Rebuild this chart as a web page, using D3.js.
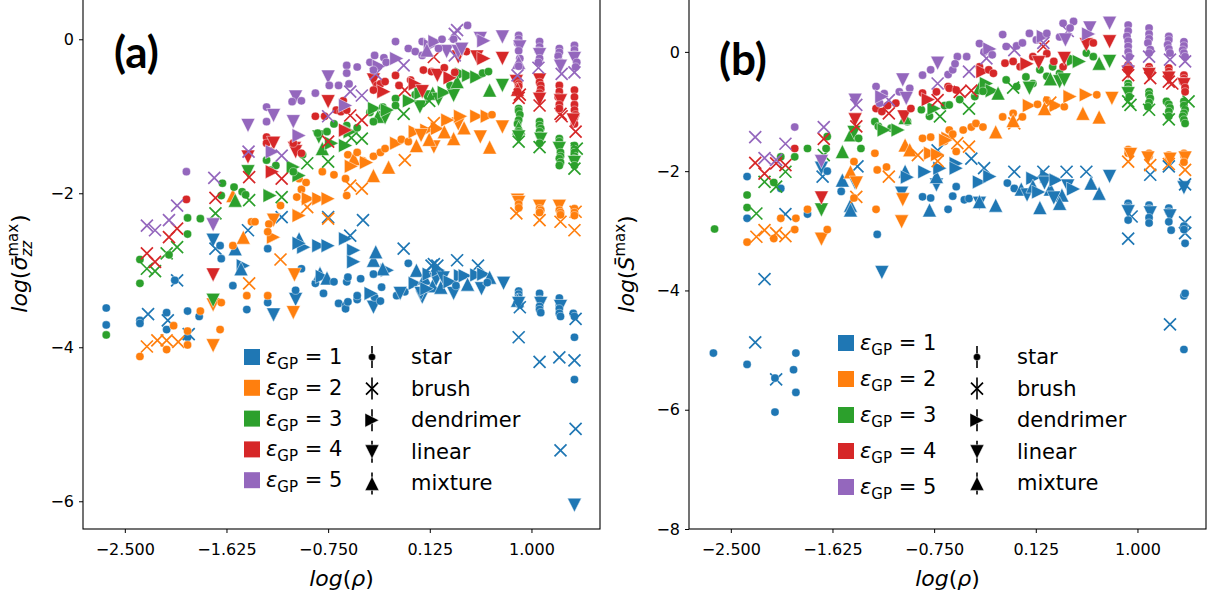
<!DOCTYPE html>
<html>
<head>
<meta charset="utf-8">
<script src="https://cdn.jsdelivr.net/npm/d3@7"></script>
<style>
  body { margin: 0; background: #fff; }
  svg { display: block; }
  text { font-family: "DejaVu Sans", sans-serif; fill: #000; }
</style>
</head>
<body>
<div id="chart"></div>
<script>
// x = log(rho), y = log(value), m = architecture code
// s = star, b = brush, d = dendrimer, l = linear, m = mixture
const xTicks = [-2.5, -1.625, -0.75, 0.125, 1.0];
const yTicksA = [0, -2, -4, -6];
const yTicksB = [0, -2, -4, -6, -8];
const epsLabels = ["1", "2", "3", "4", "5"];
const epsColors = ["#1f77b4", "#ff7f0e", "#2ca02c", "#d62728", "#9467bd"];
const archCodes = ["s", "b", "d", "l", "m"];
const archNames = ["star", "brush", "dendrimer", "linear", "mixture"];

// ---- panel (a): sigma_zz max ----
const a1 = [[-2.66,-3.49,'s'],[-2.66,-3.71,'s'],[-2.37,-3.65,'s'],[-2.37,-3.69,'s'],[-2.30,-3.57,'b'],
  [-2.14,-3.55,'s'],[-2.14,-3.77,'s'],[-2.13,-3.65,'b'],[-2.05,-3.13,'b'],[-2.07,-3.13,'s'],
  [-1.96,-3.53,'s'],[-1.96,-3.87,'s'],[-1.95,-3.83,'b'],[-1.86,-3.6,'s'],
  [-1.74,-2.61,'l'],[-1.72,-2.72,'b'],[-1.68,-2.68,'s'],[-1.67,-2.85,'s'],
  [-1.57,-3.2,'s'],[-1.55,-2.72,'m'],[-1.48,-2.94,'d'],[-1.50,-2.98,'m'],[-1.45,-3.51,'s'],[-1.44,-2.48,'b'],
  [-1.27,-3.42,'s'],[-1.22,-3.58,'l'],[-1.27,-2.72,'s'],
  [-1.03,-3.38,'l'],[-1.03,-3.26,'s'],[-1.0,-2.59,'m'],[-0.96,-2.7,'d'],[-1.0,-2.65,'d'],[-0.98,-2.98,'s'],
  [-1.15,-2.31,'b'],[-0.75,-2.31,'b'],[-0.83,-2.68,'d'],[-0.75,-2.68,'d'],[-0.60,-2.59,'d'],
  [-0.86,-3.17,'s'],[-0.82,-3.04,'m'],[-0.80,-3.08,'d'],[-0.79,-3.3,'s'],[-0.76,-3.1,'m'],
  [-0.70,-3.15,'s'],[-0.66,-3.43,'s'],[-0.60,-3.46,'s'],[-0.60,-3.5,'s'],[-0.59,-3.15,'s'],[-0.50,-3.38,'s'],
  [-0.45,-2.35,'b'],[-0.56,-2.55,'b'],[-0.53,-2.74,'d'],[-0.53,-2.89,'d'],
  [-0.36,-2.87,'m'],[-0.34,-2.76,'m'],[-0.24,-3.0,'d'],[-0.28,-2.98,'m'],
  [-0.58,-3.09,'s'],[-0.47,-3.11,'s'],[-0.36,-3.05,'s'],[-0.29,-3.22,'s'],[-0.50,-3.33,'s'],[-0.58,-3.41,'s'],
  [-0.36,-3.48,'l'],[-0.35,-3.35,'s'],[-0.30,-3.4,'s'],[-0.38,-3.3,'d'],
  [-0.10,-2.72,'b'],[-0.06,-2.91,'s'],[-0.16,-3.33,'s'],[-0.09,-3.28,'s'],[-0.13,-3.3,'l'],
  [0.01,-3.0,'m'],[0.0,-3.17,'d'],[0.06,-3.35,'l'],[0.05,-3.3,'l'],[0.08,-3.1,'m'],[0.12,-3.05,'d'],
  [0.15,-3.2,'m'],[0.18,-3.12,'l'],[0.2,-3.0,'d'],[0.22,-3.22,'m'],[0.1,-3.24,'d'],[0.24,-3.1,'l'],
  [0.14,-2.94,'b'],[0.16,-2.92,'b'],[0.19,-2.94,'b'],
  [0.36,-2.87,'b'],[0.33,-3.3,'l'],[0.39,-3.07,'d'],[0.43,-3.07,'d'],[0.30,-3.15,'d'],[0.35,-3.2,'s'],
  [0.54,-2.94,'b'],[0.53,-3.06,'d'],[0.59,-3.05,'d'],[0.57,-3.24,'l'],[0.64,-3.09,'m'],[0.62,-3.16,'s'],
  [0.76,-3.17,'l'],[0.45,-3.18,'m'],
  [0.89,-3.27,'s'],[0.89,-3.31,'s'],[0.89,-3.35,'s'],[0.88,-3.39,'m'],[0.9,-3.45,'s'],[0.89,-3.43,'l'],[0.9,-3.48,'b'],[0.89,-3.87,'b'],
  [1.07,-3.3,'s'],[1.07,-3.38,'s'],[1.08,-3.43,'l'],[1.07,-3.47,'s'],[1.07,-3.51,'s'],[1.08,-3.55,'s'],[1.07,-4.19,'b'],
  [1.24,-3.36,'s'],[1.24,-3.45,'s'],[1.25,-3.47,'l'],[1.24,-3.5,'s'],[1.24,-3.56,'s'],[1.25,-3.6,'s'],[1.24,-4.13,'b'],[1.25,-5.34,'b'],
  [1.36,-3.56,'s'],[1.37,-3.6,'s'],[1.38,-3.63,'b'],[1.37,-3.87,'s'],[1.37,-4.17,'b'],[1.37,-4.42,'s'],[1.38,-5.06,'b'],[1.37,-6.05,'l']];

const a2 = [[-2.37,-4.12,'s'],[-2.31,-3.99,'b'],[-2.22,-3.91,'b'],[-2.14,-3.91,'b'],[-2.04,-3.93,'b'],[-2.14,-4.03,'s'],[-2.08,-3.72,'s'],
  [-1.96,-3.79,'s'],[-1.96,-3.97,'s'],[-1.85,-3.53,'s'],
  [-1.74,-3.45,'l'],[-1.67,-3.42,'s'],[-1.68,-3.77,'s'],[-1.74,-3.98,'l'],
  [-1.57,-2.03,'m'],[-1.57,-2.68,'s'],[-1.48,-2.57,'m'],[-1.41,-2.37,'s'],[-1.38,-2.37,'s'],[-1.43,-3.17,'b'],
  [-1.45,-3.33,'s'],[-1.27,-3.33,'s'],
  [-1.22,-2.35,'l'],[-1.22,-2.57,'d'],[-1.26,-2.4,'s'],[-1.27,-2.5,'s'],[-1.16,-2.86,'b'],[-1.16,-2.16,'s'],
  [-1.04,-3.06,'l'],[-1.05,-3.55,'l'],
  [-1.0,-2.29,'d'],[-1.0,-1.81,'s'],[-0.98,-1.95,'s'],[-1.02,-2.05,'s'],[-0.94,-1.86,'s'],[-0.93,-2.18,'b'],
  [-0.92,-2.07,'d'],[-0.83,-2.07,'d'],[-0.75,-2.07,'d'],[-0.8,-1.72,'s'],[-0.70,-1.76,'s'],[-0.60,-1.81,'s'],[-0.75,-2.33,'b'],
  [-0.58,-1.5,'s'],[-0.53,-1.55,'m'],[-0.5,-1.47,'s'],[-0.45,-1.58,'s'],[-0.36,-1.52,'s'],[-0.3,-1.47,'s'],
  [-0.26,-1.42,'s'],[-0.55,-1.65,'d'],[-0.42,-1.6,'d'],
  [-0.36,-1.77,'m'],[-0.23,-1.66,'m'],[-0.46,-1.94,'b'],[-0.56,-1.9,'b'],[-0.59,-2.03,'s'],
  [-0.16,-1.35,'d'],[-0.12,-1.3,'s'],[-0.06,-1.33,'s'],[0.01,-1.38,'m'],[0.16,-1.40,'l'],[-0.09,-1.57,'b'],
  [0.0,-1.2,'d'],[0.1,-1.18,'d'],[0.19,-1.16,'d'],[0.16,-1.09,'b'],[0.05,-1.25,'l'],[0.12,-1.3,'m'],
  [0.33,-1.29,'m'],[0.37,-1.1,'l'],[0.39,-1.0,'d'],[0.53,-1.0,'d'],[0.62,-1.0,'d'],[0.28,-1.05,'d'],
  [0.25,-1.2,'m'],[0.42,-1.15,'m'],[0.66,-0.98,'s'],
  [0.56,-1.27,'l'],[0.64,-1.4,'m'],[0.75,-1.14,'l'],
  [0.88,-2.09,'l'],[0.89,-2.12,'l'],[0.89,-2.14,'s'],[0.89,-2.19,'s'],[0.87,-2.26,'b'],
  [1.07,-2.17,'l'],[1.07,-2.2,'s'],[1.08,-2.22,'s'],[1.07,-2.25,'s'],[1.07,-2.35,'b'],
  [1.24,-2.17,'l'],[1.24,-2.22,'s'],[1.25,-2.25,'s'],[1.25,-2.28,'s'],[1.25,-2.37,'b'],
  [1.37,-2.2,'s'],[1.38,-2.24,'b'],[1.37,-2.25,'s'],[1.37,-2.29,'s'],[1.37,-2.48,'b']];

const a3 = [[-2.66,-3.84,'s'],
  [-2.37,-2.86,'s'],[-2.37,-3.17,'s'],[-2.31,-2.98,'b'],[-2.24,-3.01,'b'],[-2.14,-2.78,'b'],[-2.05,-2.70,'b'],[-2.12,-2.8,'s'],
  [-1.96,-2.32,'s'],[-1.96,-2.53,'s'],[-1.85,-2.33,'s'],[-1.72,-2.26,'b'],[-1.74,-3.39,'l'],
  [-1.66,-1.87,'s'],[-1.56,-1.92,'s'],[-1.67,-2.03,'s'],[-1.55,-2.09,'m'],[-1.49,-1.98,'s'],[-1.46,-2.02,'s'],
  [-1.43,-2.09,'b'],[-1.44,-1.72,'l'],
  [-1.28,-1.57,'s'],[-1.20,-1.64,'s'],[-1.25,-2.03,'d'],[-1.15,-2.05,'b'],[-1.25,-1.7,'s'],
  [-1.05,-1.66,'d'],[-1.0,-1.77,'d'],[-1.05,-1.72,'s'],[-0.93,-1.61,'b'],[-0.97,-1.5,'s'],
  [-0.83,-1.27,'l'],[-0.80,-1.42,'m'],[-0.84,-1.22,'s'],[-0.76,-1.2,'s'],[-0.70,-1.1,'s'],[-0.75,-1.59,'b'],[-0.72,-1.35,'d'],
  [-0.60,-1.38,'d'],[-0.59,-1.12,'s'],[-0.56,-1.2,'d'],[-0.46,-1.29,'b'],[-0.55,-1.28,'b'],[-0.5,-1.15,'s'],
  [-0.39,-0.95,'s'],[-0.35,-0.9,'d'],[-0.32,-1.0,'m'],[-0.28,-0.88,'s'],[-0.26,-1.02,'l'],[-0.24,-0.92,'d'],[-0.36,-1.07,'s'],
  [-0.17,-0.77,'s'],[-0.17,-0.86,'s'],[-0.10,-0.97,'b'],[0.04,-0.88,'l'],[-0.05,-0.8,'d'],
  [0.0,-0.72,'s'],[0.05,-0.7,'d'],[0.1,-0.75,'l'],[0.15,-0.7,'m'],[0.2,-0.78,'l'],[0.25,-0.69,'d'],[0.12,-0.8,'b'],
  [0.33,-0.73,'l'],[0.30,-0.6,'s'],[0.40,-0.45,'d'],[0.46,-0.47,'d'],[0.53,-0.49,'d'],[0.58,-0.44,'s'],[0.63,-0.42,'s'],[0.36,-0.55,'m'],
  [0.64,-0.66,'m'],[0.75,-0.6,'l'],
  [0.89,-0.9,'s'],[0.89,-0.93,'s'],[0.90,-0.98,'s'],[0.89,-1.05,'s'],[0.88,-1.1,'s'],[0.89,-1.15,'m'],[0.89,-1.2,'s'],[0.89,-1.27,'l'],[0.89,-1.33,'b'],
  [1.07,-1.07,'s'],[1.07,-1.12,'s'],[1.08,-1.16,'s'],[1.07,-1.2,'s'],[1.07,-1.25,'s'],[1.08,-1.3,'l'],[1.07,-1.35,'s'],[1.07,-1.4,'b'],
  [1.24,-1.29,'s'],[1.24,-1.33,'s'],[1.24,-1.38,'s'],[1.24,-1.42,'l'],[1.25,-1.47,'s'],[1.25,-1.52,'s'],[1.24,-1.55,'s'],[1.25,-1.6,'s'],[1.24,-1.64,'s'],
  [1.37,-1.38,'s'],[1.37,-1.43,'s'],[1.37,-1.47,'s'],[1.37,-1.52,'s'],[1.36,-1.55,'s'],[1.37,-1.6,'l'],[1.37,-1.64,'s'],[1.39,-1.42,'b'],[1.37,-1.68,'b']];

const a4 = [[-2.31,-2.78,'b'],[-2.24,-2.89,'b'],[-2.12,-2.57,'b'],[-2.05,-2.46,'b'],
  [-1.97,-2.08,'s'],[-1.72,-2.06,'b'],[-1.74,-3.06,'l'],[-1.44,-1.53,'l'],[-1.43,-1.79,'b'],
  [-1.28,-1.27,'s'],[-1.28,-1.35,'s'],[-1.22,-1.35,'l'],[-1.23,-1.72,'d'],[-1.15,-1.81,'b'],[-1.25,-1.45,'s'],
  [-1.04,-1.42,'l'],[-1.03,-1.46,'l'],[-0.98,-1.48,'s'],[-1.05,-1.35,'s'],
  [-0.86,-1.0,'s'],[-0.78,-1.0,'s'],[-0.75,-0.81,'l'],[-0.68,-0.92,'s'],[-0.64,-0.94,'s'],[-0.75,-1.33,'b'],
  [-0.60,-1.18,'d'],[-0.62,-0.8,'s'],[-0.56,-0.99,'b'],[-0.46,-1.05,'b'],[-0.59,-0.92,'s'],
  [-0.36,-0.53,'l'],[-0.33,-0.6,'s'],[-0.3,-0.58,'s'],[-0.27,-0.68,'d'],[-0.36,-0.66,'s'],[-0.26,-0.55,'s'],
  [-0.17,-0.47,'s'],[-0.14,-0.6,'s'],[-0.09,-0.66,'b'],[-0.04,-0.53,'s'],[0.0,-0.58,'d'],[0.07,-0.4,'s'],
  [0.14,-0.42,'s'],[0.19,-0.47,'l'],[0.06,-0.68,'l'],[0.16,-0.23,'b'],[0.25,-0.37,'s'],[0.3,-0.5,'d'],[0.34,-0.43,'s'],
  [0.44,-0.16,'s'],[0.37,-0.23,'l'],[0.53,-0.23,'l'],[0.59,-0.25,'d'],[0.75,-0.25,'l'],
  [0.87,-0.55,'l'],[0.89,-0.58,'s'],[0.89,-0.61,'s'],[0.88,-0.65,'m'],[0.88,-0.68,'s'],[0.89,-0.76,'b'],[0.90,-0.72,'b'],
  [1.07,-0.53,'l'],[1.07,-0.56,'s'],[1.08,-0.6,'s'],[1.08,-0.65,'s'],[1.07,-0.7,'s'],[1.07,-0.78,'l'],[1.07,-0.86,'b'],
  [1.24,-0.6,'s'],[1.24,-0.68,'s'],[1.23,-0.75,'s'],[1.25,-0.8,'l'],[1.24,-0.85,'s'],[1.25,-0.97,'b'],[1.26,-1.0,'b'],[1.24,-0.9,'s'],
  [1.37,-0.66,'s'],[1.37,-0.75,'s'],[1.37,-0.85,'s'],[1.37,-0.92,'s'],[1.38,-0.98,'s'],[1.37,-1.02,'s'],[1.37,-1.1,'s'],[1.38,-1.2,'b'],[1.36,-1.05,'l']];

const a5 = [[-2.31,-2.42,'b'],[-2.24,-2.48,'b'],[-2.12,-2.35,'b'],[-2.05,-2.16,'b'],
  [-1.97,-1.72,'s'],[-1.73,-1.80,'b'],[-1.74,-2.41,'l'],[-1.44,-1.12,'l'],[-1.435,-1.46,'b'],
  [-1.28,-0.88,'s'],[-1.28,-1.07,'s'],[-1.22,-0.99,'l'],[-1.23,-1.46,'d'],[-1.15,-1.51,'b'],
  [-1.03,-0.75,'l'],[-1.06,-0.81,'s'],[-0.98,-0.8,'s'],[-1.05,-1.07,'l'],[-1.0,-1.25,'d'],
  [-0.86,-0.7,'s'],[-0.75,-0.49,'l'],[-0.74,-0.6,'s'],[-0.66,-0.6,'s'],[-0.75,-1.0,'b'],[-0.60,-0.86,'d'],
  [-0.59,-0.34,'s'],[-0.59,-0.44,'s'],[-0.57,-0.58,'s'],[-0.50,-0.36,'s'],[-0.56,-0.68,'b'],[-0.46,-0.73,'b'],
  [-0.39,-0.3,'s'],[-0.35,-0.21,'s'],[-0.31,-0.35,'d'],[-0.27,-0.24,'s'],[-0.25,-0.3,'s'],[-0.34,-0.45,'b'],[-0.36,-0.4,'s'],
  [-0.17,-0.03,'s'],[-0.16,-0.25,'d'],[-0.10,-0.34,'b'],[-0.06,-0.12,'s'],[0.0,-0.16,'s'],[0.06,-0.03,'s'],[0.06,-0.21,'s'],
  [0.13,-0.08,'d'],[0.17,-0.03,'d'],[0.23,0.0,'s'],[0.1,-0.14,'m'],[0.27,-0.16,'l'],[0.34,-0.21,'b'],[0.2,-0.12,'s'],
  [0.36,0.12,'b'],[0.34,0.07,'b'],[0.45,0.18,'s'],[0.33,0.0,'s'],[0.37,-0.16,'l'],[0.40,-0.13,'l'],
  [0.56,0.01,'l'],[0.59,-0.02,'d'],[0.75,0.03,'l'],
  [0.89,0.05,'s'],[0.89,0.0,'s'],[0.88,-0.05,'s'],[0.9,-0.1,'l'],[0.89,-0.15,'s'],[0.9,-0.25,'s'],[0.89,-0.3,'m'],[0.89,-0.35,'s'],[0.88,-0.47,'b'],
  [1.07,-0.03,'s'],[1.07,-0.1,'s'],[1.06,-0.15,'s'],[1.07,-0.2,'l'],[1.07,-0.25,'s'],[1.06,-0.3,'s'],[1.06,-0.37,'b'],
  [1.24,-0.12,'s'],[1.24,-0.17,'s'],[1.23,-0.22,'s'],[1.25,-0.3,'s'],[1.25,-0.35,'l'],[1.26,-0.45,'b'],
  [1.37,-0.08,'s'],[1.37,-0.14,'s'],[1.37,-0.2,'s'],[1.37,-0.25,'l'],[1.39,-0.3,'s'],[1.38,-0.36,'s'],[1.37,-0.43,'b']];

// ---- panel (b): S max ----
const b1 = [[-2.65,-5.05,'s'],[-2.36,-5.24,'s'],[-2.29,-4.87,'b'],[-2.11,-5.49,'b'],[-2.12,-5.47,'s'],[-2.12,-6.04,'s'],
  [-1.96,-5.33,'s'],[-1.94,-5.05,'s'],[-1.94,-5.71,'s'],
  [-2.36,-2.09,'s'],[-2.36,-2.79,'s'],[-2.21,-3.81,'b'],[-2.07,-2.29,'s'],[-2.03,-2.72,'b'],[-1.84,-2.72,'s'],
  [-1.72,-1.95,'l'],[-1.71,-2.09,'b'],[-1.67,-2.0,'s'],
  [-1.54,-2.15,'m'],[-1.55,-2.34,'s'],[-1.47,-2.57,'m'],[-1.47,-2.65,'m'],[-1.43,-2.2,'l'],[-1.41,-1.92,'b'],
  [-1.24,-3.06,'s'],[-1.2,-3.7,'l'],[-1.03,-2.37,'l'],[-1.0,-2.0,'m'],[-0.98,-2.1,'d'],
  [-0.85,-2.43,'s'],[-0.78,-2.45,'s'],[-0.79,-2.65,'m'],[-0.83,-2.01,'d'],[-0.73,-2.23,'l'],[-0.73,-2.09,'m'],
  [-0.72,-1.65,'b'],[-0.7,-1.95,'d'],[-0.63,-2.64,'s'],
  [-0.56,-1.87,'d'],[-0.56,-1.95,'d'],[-0.43,-1.79,'b'],[-0.32,-1.95,'b'],[-0.36,-2.18,'d'],[-0.27,-2.09,'d'],
  [-0.56,-2.26,'s'],[-0.59,-2.42,'s'],[-0.49,-2.48,'s'],[-0.45,-2.46,'s'],[-0.36,-2.54,'l'],[-0.22,-2.57,'m'],[-0.36,-2.51,'m'],
  [-0.06,-2.01,'b'],[-0.12,-2.2,'s'],[-0.06,-2.29,'s'],[0.1,-2.12,'d'],[0.22,-2.09,'d'],[0.19,-2.01,'b'],[0.39,-2.01,'b'],[0.56,-2.01,'b'],
  [0.0,-2.3,'m'],[0.05,-2.4,'l'],[0.1,-2.25,'m'],[0.15,-2.35,'d'],[0.2,-2.2,'l'],[0.25,-2.3,'m'],[0.3,-2.15,'d'],
  [0.35,-2.4,'m'],[0.4,-2.25,'l'],[0.45,-2.3,'d'],[0.28,-2.45,'l'],
  [0.16,-2.61,'m'],[0.33,-2.54,'m'],[0.67,-2.37,'m'],[0.76,-2.09,'l'],[0.6,-2.2,'m'],
  [0.92,-2.54,'s'],[0.92,-2.6,'s'],[0.92,-2.68,'l'],[0.95,-2.76,'b'],[0.92,-2.82,'s'],[0.92,-3.13,'b'],
  [1.1,-2.57,'s'],[1.1,-2.63,'s'],[1.11,-2.7,'l'],[1.1,-2.78,'s'],[1.1,-2.87,'s'],[1.11,-2.06,'b'],
  [1.27,-2.62,'s'],[1.27,-2.68,'s'],[1.28,-2.75,'l'],[1.27,-2.85,'s'],[1.29,-2.99,'s'],[1.27,-1.92,'b'],[1.28,-4.57,'b'],
  [1.4,-2.28,'l'],[1.41,-2.22,'b'],[1.41,-2.86,'b'],[1.4,-2.92,'s'],[1.41,-3.04,'b'],[1.4,-2.98,'s'],[1.41,-3.21,'s'],
  [1.4,-4.09,'s'],[1.41,-4.05,'s'],[1.4,-4.99,'s']];

const b2 = [[-2.36,-3.19,'s'],[-2.28,-3.1,'b'],[-2.21,-2.99,'b'],[-2.13,-3.13,'s'],[-2.11,-3.04,'b'],[-2.07,-2.79,'s'],
  [-2.03,-3.09,'b'],[-1.95,-2.98,'s'],[-1.94,-2.79,'s'],[-1.84,-2.64,'s'],[-1.72,-3.14,'l'],[-1.67,-2.98,'s'],
  [-1.47,-2.01,'m'],[-1.44,-1.84,'s'],[-1.42,-2.2,'l'],[-1.42,-2.43,'b'],[-1.44,-2.45,'s'],
  [-1.26,-1.7,'s'],[-1.24,-1.98,'s'],[-1.16,-1.93,'s'],[-1.14,-2.09,'b'],[-1.25,-2.64,'s'],
  [-1.02,-2.48,'l'],[-1.03,-2.85,'l'],
  [-1.0,-1.56,'m'],[-0.96,-1.64,'m'],[-0.89,-1.73,'b'],[-0.85,-1.45,'s'],[-0.78,-1.43,'s'],[-0.66,-1.5,'s'],
  [-0.78,-1.7,'d'],[-0.72,-1.72,'d'],[-0.63,-1.45,'d'],[-0.72,-1.83,'b'],
  [-0.62,-1.31,'s'],[-0.59,-1.38,'s'],[-0.5,-1.31,'s'],[-0.43,-1.26,'s'],[-0.39,-1.2,'s'],[-0.33,-1.26,'s'],[-0.22,-1.34,'m'],
  [-0.55,-1.53,'b'],[-0.45,-1.59,'b'],[-0.65,-1.48,'d'],[-0.56,-1.67,'s'],
  [-0.16,-1.09,'s'],[-0.07,-1.03,'s'],[0.01,-1.09,'s'],[-0.06,-1.2,'b'],[-0.07,-1.15,'m'],
  [0.07,-0.9,'d'],[0.14,-0.88,'s'],[0.22,-0.81,'s'],[0.3,-0.9,'d'],[0.37,-0.92,'s'],[0.2,-0.95,'m'],[0.25,-0.85,'b'],
  [0.42,-0.75,'d'],[0.56,-0.72,'d'],[0.65,-0.72,'s'],[0.53,-1.03,'m'],[0.67,-1.09,'m'],[0.78,-0.78,'l'],
  [0.92,-1.64,'s'],[0.92,-1.7,'s'],[0.94,-1.72,'l'],[0.92,-1.84,'b'],
  [1.1,-1.7,'s'],[1.1,-1.75,'s'],[1.09,-1.78,'l'],[1.11,-1.9,'b'],
  [1.27,-1.73,'s'],[1.27,-1.77,'s'],[1.28,-1.8,'l'],[1.27,-1.88,'b'],
  [1.4,-1.7,'s'],[1.4,-1.74,'s'],[1.41,-1.78,'l'],[1.41,-1.98,'b'],[1.4,-1.85,'s']];

const b3 = [[-2.64,-2.97,'s'],[-2.36,-2.40,'s'],[-2.36,-2.61,'s'],[-2.28,-2.71,'b'],[-2.21,-2.18,'b'],[-2.13,-2.19,'s'],
  [-2.11,-2.26,'b'],[-2.03,-2.01,'b'],[-2.07,-1.76,'s'],[-1.95,-1.76,'s'],[-1.84,-1.62,'s'],
  [-1.72,-2.65,'l'],[-1.70,-1.73,'b'],[-1.67,-1.42,'s'],[-1.68,-1.62,'s'],
  [-1.54,-1.67,'m'],[-1.47,-1.39,'m'],[-1.44,-1.35,'l'],[-1.4,-1.45,'s'],[-1.38,-1.62,'s'],
  [-1.26,-1.17,'s'],[-1.23,-1.25,'s'],[-1.12,-1.28,'s'],[-1.18,-1.31,'d'],[-1.06,-1.31,'d'],[-0.98,-1.17,'s'],[-1.0,-1.1,'m'],
  [-0.86,-0.97,'s'],[-0.79,-1.08,'s'],[-0.7,-1.08,'b'],[-0.75,-0.95,'d'],[-0.66,-0.9,'s'],
  [-0.62,-0.89,'s'],[-0.53,-0.8,'s'],[-0.45,-0.95,'b'],[-0.4,-0.75,'s'],
  [-0.36,-0.6,'m'],[-0.3,-0.53,'d'],[-0.25,-0.65,'d'],[-0.2,-0.69,'m'],[-0.33,-0.66,'s'],
  [-0.13,-0.47,'s'],[-0.04,-0.58,'s'],[0.04,-0.42,'s'],[0.1,-0.53,'s'],[-0.07,-0.6,'b'],[0.07,-0.61,'l'],
  [0.16,-0.3,'s'],[0.22,-0.41,'s'],[0.27,-0.25,'s'],[0.33,-0.36,'s'],[0.33,-0.5,'l'],[0.37,-0.47,'l'],[0.25,-0.45,'m'],
  [0.45,-0.13,'d'],[0.5,-0.16,'d'],[0.56,-0.02,'s'],[0.62,-0.08,'s'],[0.67,-0.19,'m'],[0.76,-0.16,'l'],
  [0.92,-0.53,'s'],[0.92,-0.58,'s'],[0.92,-0.64,'s'],[0.92,-0.7,'l'],[0.93,-0.75,'s'],[0.92,-0.83,'b'],[0.94,-0.89,'b'],
  [1.1,-0.67,'s'],[1.1,-0.72,'s'],[1.11,-0.78,'s'],[1.1,-0.85,'s'],[1.09,-0.92,'s'],[1.1,-0.97,'b'],
  [1.25,-0.83,'s'],[1.27,-0.88,'s'],[1.28,-0.94,'s'],[1.27,-1.0,'s'],[1.27,-1.08,'s'],[1.27,-1.13,'b'],
  [1.4,-0.83,'s'],[1.4,-0.9,'s'],[1.41,-0.97,'s'],[1.4,-1.03,'s'],[1.39,-1.08,'s'],[1.4,-1.14,'s'],[1.41,-1.2,'s'],[1.44,-0.83,'b']];

const b4 = [[-2.29,-1.86,'b'],[-2.21,-2.04,'b'],[-2.11,-1.87,'b'],[-2.03,-1.9,'b'],[-1.95,-1.62,'s'],
  [-1.70,-1.46,'b'],[-1.72,-2.45,'l'],[-1.43,-1.14,'l'],[-1.42,-1.25,'b'],
  [-1.25,-0.95,'s'],[-1.2,-1.0,'s'],[-1.15,-0.9,'s'],[-1.08,-0.86,'s'],[-1.14,-1.03,'b'],[-1.01,-1.09,'l'],[-0.95,-0.95,'s'],
  [-0.85,-0.69,'s'],[-0.73,-0.67,'s'],[-0.63,-0.58,'s'],[-0.72,-0.81,'b'],[-0.8,-0.8,'d'],
  [-0.62,-0.61,'s'],[-0.56,-0.64,'s'],[-0.53,-0.67,'b'],[-0.43,-0.65,'b'],
  [-0.36,-0.25,'s'],[-0.33,-0.33,'d'],[-0.28,-0.3,'s'],[-0.24,-0.36,'s'],
  [-0.14,-0.19,'s'],[-0.07,-0.16,'s'],[-0.01,-0.25,'s'],[0.05,-0.2,'d'],
  [0.1,-0.08,'s'],[0.19,0.09,'b'],[0.22,-0.03,'s'],[0.28,-0.16,'s'],[0.36,-0.25,'s'],[0.37,-0.11,'l'],[0.15,-0.18,'l'],
  [0.56,0.12,'l'],[0.62,0.15,'s'],[0.76,0.17,'l'],
  [0.92,-0.22,'s'],[0.92,-0.27,'s'],[0.91,-0.3,'s'],[0.92,-0.34,'l'],[0.92,-0.39,'b'],
  [1.1,-0.25,'s'],[1.1,-0.3,'s'],[1.12,-0.33,'s'],[1.1,-0.38,'l'],[1.11,-0.44,'b'],
  [1.27,-0.27,'s'],[1.27,-0.33,'s'],[1.28,-0.38,'s'],[1.27,-0.44,'l'],[1.27,-0.5,'b'],[1.3,-0.53,'b'],
  [1.4,-0.39,'s'],[1.4,-0.45,'s'],[1.39,-0.5,'s'],[1.4,-0.55,'l'],[1.41,-0.6,'s'],[1.41,-0.67,'s']];

const b5 = [[-2.29,-1.43,'b'],[-2.21,-1.78,'b'],[-2.11,-1.81,'b'],[-2.03,-1.54,'b'],[-1.95,-1.26,'s'],
  [-1.70,-1.26,'b'],[-1.72,-1.84,'l'],[-1.43,-0.81,'l'],[-1.42,-0.89,'b'],
  [-1.25,-0.58,'s'],[-1.18,-0.7,'s'],[-1.22,-0.86,'s'],[-1.14,-0.81,'b'],[-1.2,-0.75,'d'],
  [-1.02,-0.47,'l'],[-1.05,-0.67,'s'],[-0.96,-0.61,'s'],[-0.99,-0.78,'l'],
  [-0.85,-0.39,'s'],[-0.78,-0.3,'s'],[-0.72,-0.19,'l'],[-0.63,-0.38,'s'],[-0.72,-0.53,'b'],
  [-0.59,-0.3,'s'],[-0.55,-0.08,'s'],[-0.47,-0.08,'s'],[-0.45,-0.33,'b'],[-0.57,-0.2,'s'],
  [-0.36,0.14,'s'],[-0.32,0.0,'s'],[-0.27,0.05,'d'],[-0.3,-0.11,'b'],[-0.25,-0.05,'s'],
  [-0.16,0.29,'s'],[-0.13,0.09,'s'],[-0.04,0.1,'s'],[-0.06,0.03,'b'],
  [0.01,0.15,'s'],[0.07,0.31,'s'],[0.13,0.2,'s'],[0.19,0.26,'d'],[0.22,0.31,'s'],[0.19,0.15,'b'],
  [0.33,0.25,'s'],[0.36,0.48,'s'],[0.4,0.35,'b'],[0.45,0.51,'s'],[0.38,0.2,'l'],[0.42,0.4,'s'],
  [0.59,0.40,'l'],[0.58,0.3,'d'],[0.76,0.48,'l'],
  [0.92,0.45,'s'],[0.92,0.35,'s'],[0.91,0.26,'s'],[0.92,0.18,'s'],[0.92,0.09,'s'],[0.92,0.0,'s'],[0.93,-0.08,'s'],[0.92,-0.16,'b'],
  [1.1,0.4,'s'],[1.1,0.3,'s'],[1.1,0.22,'s'],[1.09,0.15,'s'],[1.11,0.04,'s'],[1.1,-0.02,'s'],[1.1,-0.08,'b'],
  [1.27,0.26,'s'],[1.27,0.2,'s'],[1.26,0.12,'s'],[1.27,0.05,'s'],[1.28,-0.02,'s'],[1.28,-0.13,'b'],
  [1.4,0.17,'s'],[1.4,0.1,'s'],[1.39,0.03,'s'],[1.4,-0.02,'s'],[1.41,-0.08,'s'],[1.41,-0.16,'b']];

const W = 1209, H = 598;
const svg = d3.select("#chart").append("svg").attr("width", W).attr("height", H);
svg.append("rect").attr("width", W).attr("height", H).attr("fill", "#fff");

const T = 7; // triangle half-size
const markerPath = {
  b: "M-6,-6L6,6M-6,6L6,-6",
  d: `M${-T},${-T}L${T},0L${-T},${T}Z`,
  l: `M${-T},${-T}L${T},${-T}L0,${T}Z`,
  m: `M0,${-T}L${T},${T}L${-T},${T}Z`
};

function drawMarker(g, code, color, x, y, r) {
  if (code === "s") {
    g.append("circle").attr("cx", x).attr("cy", y).attr("r", r || 4.1)
      .attr("fill", color).attr("stroke", "#fff").attr("stroke-width", 0.4);
  } else if (code === "b") {
    g.append("path").attr("d", markerPath.b).attr("transform", `translate(${x},${y})`)
      .attr("fill", "none").attr("stroke", color).attr("stroke-width", 1.7);
  } else {
    g.append("path").attr("d", markerPath[code]).attr("transform", `translate(${x},${y})`)
      .attr("fill", color).attr("stroke", "#fff").attr("stroke-width", 0.5);
  }
}

function drawPanel(p) {
  const x = d3.scaleLinear().domain([-2.86, 1.59]).range([p.left, p.left + 517]);
  const y = d3.scaleLinear().domain(p.yDomain).range([529, 0]);
  const g = svg.append("g");

  // points, eps 1 drawn first
  p.series.forEach((pts, i) => {
    const sg = g.append("g");
    pts.forEach(d => drawMarker(sg, d[2], epsColors[i], x(d[0]), y(d[1])));
  });

  // frame
  g.append("rect").attr("x", p.left).attr("y", -1).attr("width", 517).attr("height", 530)
    .attr("fill", "none").attr("stroke", "#000").attr("stroke-width", 1.1);

  const xa = g.append("g").attr("transform", "translate(0,529)")
    .call(d3.axisBottom(x).tickValues(xTicks).tickFormat(d3.format(".3f")).tickSize(4).tickPadding(8));
  const ya = g.append("g").attr("transform", `translate(${p.left},0)`)
    .call(d3.axisLeft(y).tickValues(p.yTicks).tickFormat(d3.format("d")).tickSize(4).tickPadding(5));
  [xa, ya].forEach(a => {
    a.select(".domain").remove();
    a.selectAll("line").attr("stroke", "#000").attr("stroke-width", 1);
    a.selectAll("text").attr("font-size", 16).attr("fill", "#000");
  });
  xa.selectAll("text").attr("dy", "0.85em");

  // x label
  const xl = g.append("text").attr("x", p.left + 258.5).attr("y", 586)
    .attr("text-anchor", "middle").attr("font-size", 22);
  xl.append("tspan").attr("font-style", "italic").text("log");
  xl.append("tspan").text("(");
  xl.append("tspan").attr("font-style", "italic").text("ρ");
  xl.append("tspan").text(")");

  // y label (rotated, with stacked sub/superscript)
  const yg = g.append("g").attr("transform", `translate(${p.ylabX},264) rotate(-90)`);
  const yt = yg.append("text").attr("font-size", 22);
  yt.append("tspan").attr("font-style", "italic").text("log");
  yt.append("tspan").text("(");
  yt.append("tspan").attr("font-style", "italic").text(p.ySym);
  let sub = null;
  if (p.ySub) sub = yt.append("tspan").attr("font-style", "italic").attr("font-size", 15).attr("dy", 5).text(p.ySub);
  const sup = yt.append("tspan").attr("font-size", 15).attr("dy", p.ySub ? -14 : -9).text("max");
  const close = yt.append("tspan").attr("dy", 9).text(")");
  if (sub) {
    const ls = sub.node().getComputedTextLength();
    const lm = sup.node().getComputedTextLength();
    sup.attr("dx", -ls);
    close.attr("dx", Math.max(0, ls - lm) + 1);
  }
  const tw = yt.node().getComputedTextLength();
  yt.attr("x", -tw / 2 + (sub ? sub.node().getComputedTextLength() / 2 : 0));

  // panel tag (style so the css rule on text does not win)
  g.append("text").attr("x", p.tagX).attr("y", p.tagY)
    .style("font-family", "Lato, 'Open Sans', sans-serif")
    .style("font-weight", 700).style("font-size", "44px").text(p.tag);

  // color legend
  epsLabels.forEach((lab, i) => {
    const cy = p.cLeg.y0 + i * p.cLeg.dy;
    g.append("rect").attr("x", p.cLeg.x).attr("y", cy - 8).attr("width", 16).attr("height", 16)
      .attr("fill", epsColors[i]);
    const t = g.append("text").attr("x", p.cLeg.x + 22).attr("y", cy + 7).attr("font-size", 21);
    t.append("tspan").attr("font-style", "italic").text("ε");
    t.append("tspan").attr("font-size", 15).attr("dy", 5).text("GP");
    t.append("tspan").attr("dy", -5).text(" = " + lab);
  });

  // architecture legend (errorbar-style handles)
  archCodes.forEach((c, i) => {
    const cy = p.mLeg.y0 + i * p.mLeg.dy;
    g.append("line").attr("x1", p.mLeg.x).attr("x2", p.mLeg.x).attr("y1", cy - 11).attr("y2", cy + 11)
      .attr("stroke", "#000").attr("stroke-width", 1.6);
    drawMarker(g, c, "#000", p.mLeg.x, cy, 3.6);
    g.append("text").attr("x", p.mLeg.tx).attr("y", cy + 7).attr("font-size", 21).text(archNames[i]);
  });
}

drawPanel({
  left: 83, yDomain: [-6.36, 0.51], yTicks: yTicksA, series: [a1, a2, a3, a4, a5],
  ySym: "σ\u0304", ySub: "zz", ylabX: 27, tag: "(a)", tagX: 114, tagY: 68,
  cLeg: { x: 244, y0: 357, dy: 30.8 }, mLeg: { x: 372, tx: 411, y0: 357, dy: 31.6 }
});
drawPanel({
  left: 689, yDomain: [-8, 0.87], yTicks: yTicksB, series: [b1, b2, b3, b4, b5],
  ySym: "S\u0304", ySub: null, ylabX: 634, tag: "(b)", tagX: 719, tagY: 75,
  cLeg: { x: 838, y0: 343, dy: 36 }, mLeg: { x: 977, tx: 1017, y0: 357, dy: 31.6 }
});
</script>
</body>
</html>
